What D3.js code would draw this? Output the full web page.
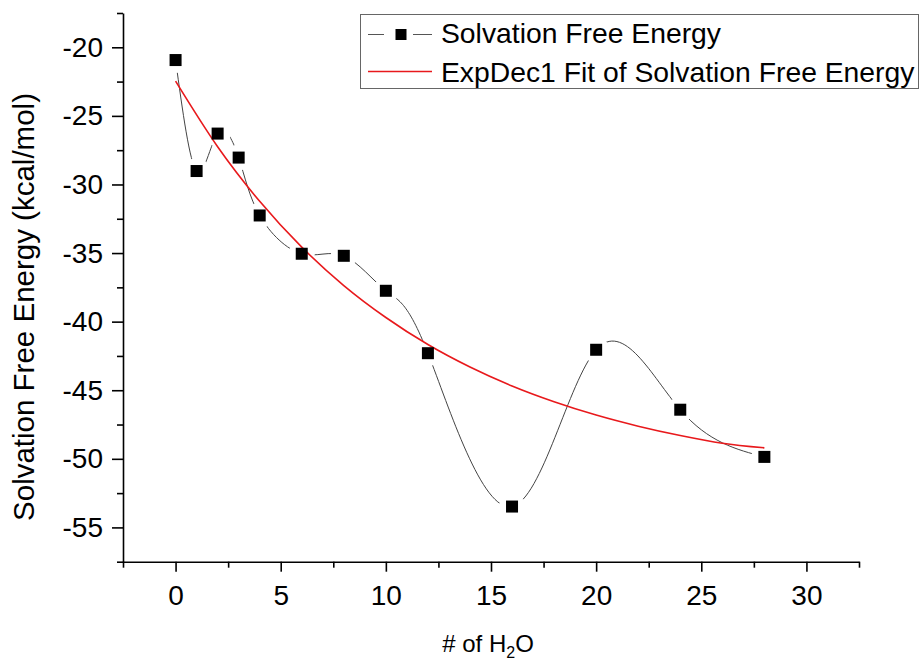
<!DOCTYPE html>
<html>
<head>
<meta charset="utf-8">
<script src="https://cdn.jsdelivr.net/npm/d3@7"></script>
<style>
	body { margin: 0; background: #fff; }
	svg { display: block; font-family: "Liberation Sans", Arial, sans-serif; }
	.axis path, .axis line { stroke: #000; stroke-width: 1.6; }
	.axis text { fill: #000; font-size: 28px; font-family: "Liberation Sans", Arial, sans-serif; }
</style>
</head>
<body>
<div id="chart"></div>
<script>
var nWater = [0, 1, 2, 3, 4, 6, 8, 10, 12, 16, 20, 24, 28];
var solvEnergy = [-20.93, -29.02, -26.29, -28.04, -32.26, -35.05, -35.2, -37.75, -42.3, -53.48, -42.05, -46.42, -49.86];

var fitX = [0, 2, 4, 6, 8, 10, 12, 14, 16, 18, 20, 22, 24, 26, 28];
var fitEnergy = [-22.47, -27.25, -31.23, -34.57, -37.37, -39.7, -41.67, -43.31, -44.69, -45.84, -46.81, -47.62, -48.3, -48.86, -49.2];

var xTicks = [0, 5, 10, 15, 20, 25, 30];
var yTicks = [-55, -50, -45, -40, -35, -30, -25, -20];

var legendLabels = ["Solvation Free Energy", "ExpDec1 Fit of Solvation Free Energy"];

(function() {
	'use strict';

	var width = 920,
		height = 660,
		margin = { top: 13, right: 61, bottom: 98.3, left: 123 },
		innerW = width - margin.left - margin.right,
		innerH = height - margin.top - margin.bottom,
		plain = function(d) { return String(d); };

	var svg = d3.select("#chart").append("svg")
		.attr("width", width)
		.attr("height", height);

	var x = d3.scaleLinear().domain([-2.5, 32.5]).range([margin.left, margin.left + innerW]),
		y = d3.scaleLinear().domain([-57.5, -17.5]).range([margin.top + innerH, margin.top]);

	var xMinor = d3.range(-2.5, 33, 5),
		yMinor = d3.range(-57.5, -17, 5);

	// minor ticks first, then major axes
	svg.append("g")
		.attr("class", "axis")
		.attr("transform", "translate(0," + y.range()[0] + ")")
		.call(d3.axisBottom(x).tickValues(xMinor).tickSize(6).tickFormat("").tickSizeOuter(0));

	svg.append("g")
		.attr("class", "axis")
		.attr("transform", "translate(" + x.range()[0] + ",0)")
		.call(d3.axisLeft(y).tickValues(yMinor).tickSize(6).tickFormat("").tickSizeOuter(0));

	svg.append("g")
		.attr("class", "axis")
		.attr("transform", "translate(0," + y.range()[0] + ")")
		.call(d3.axisBottom(x).tickValues(xTicks).tickFormat(plain).tickSize(10).tickPadding(13.5).tickSizeOuter(0))
		.call(function(g) { g.select(".domain").remove(); });

	svg.append("g")
		.attr("class", "axis")
		.attr("transform", "translate(" + x.range()[0] + ",0)")
		.call(d3.axisLeft(y).tickValues(yTicks).tickFormat(plain).tickSize(11).tickPadding(9).tickSizeOuter(0))
		.call(function(g) { g.select(".domain").remove(); });

	var data = nWater.map(function(n, i) { return { n: n, e: solvEnergy[i] }; }),
		fit = fitX.map(function(n, i) { return { n: n, e: fitEnergy[i] }; });

	svg.append("path")
		.datum(data)
		.attr("fill", "none")
		.attr("stroke", "#444")
		.attr("stroke-width", 1)
		.attr("d", d3.line()
			.curve(d3.curveNatural)
			.x(function(d) { return x(d.n); })
			.y(function(d) { return y(d.e); }));

	// gaps of the connecting line round each symbol
	svg.selectAll("circle.gap")
		.data(data)
		.enter().append("circle")
		.attr("class", "gap")
		.attr("r", 13)
		.attr("fill", "#fff")
		.attr("cx", function(d) { return x(d.n); })
		.attr("cy", function(d) { return y(d.e); });

	svg.append("path")
		.datum(fit)
		.attr("fill", "none")
		.attr("stroke", "#e8191c")
		.attr("stroke-width", 1.6)
		.attr("d", d3.line()
			.curve(d3.curveMonotoneX)
			.x(function(d) { return x(d.n); })
			.y(function(d) { return y(d.e); }));

	var sq = 12;
	svg.selectAll("rect.pt")
		.data(data)
		.enter().append("rect")
		.attr("class", "pt")
		.attr("width", sq)
		.attr("height", sq)
		.attr("x", function(d) { return x(d.n) - sq / 2; })
		.attr("y", function(d) { return y(d.e) - sq / 2; })
		.attr("fill", "#000");

	// axis titles
	svg.append("text")
		.attr("transform", "translate(34,307) rotate(-90)")
		.attr("text-anchor", "middle")
		.style("font-size", "29.5px")
		.text("Solvation Free Energy (kcal/mol)");

	var xt = svg.append("text")
		.attr("x", 488)
		.attr("y", 652)
		.attr("text-anchor", "middle")
		.style("font-size", "24px");
	xt.append("tspan").text("# of H");
	xt.append("tspan").attr("dy", 6).style("font-size", "16px").text("2");
	xt.append("tspan").attr("dy", -6).text("O");

	// legend
	var lg = svg.append("g");
	lg.append("rect")
		.attr("x", 360.5).attr("y", 14.5)
		.attr("width", 558).attr("height", 74)
		.attr("fill", "#fff")
		.attr("stroke", "#666")
		.attr("stroke-width", 1);

	lg.append("line").attr("x1", 368).attr("x2", 384).attr("y1", 34.5).attr("y2", 34.5)
		.attr("stroke", "#555").attr("stroke-width", 1);
	lg.append("line").attr("x1", 413).attr("x2", 432).attr("y1", 34.5).attr("y2", 34.5)
		.attr("stroke", "#555").attr("stroke-width", 1);
	lg.append("rect").attr("x", 395.5).attr("y", 29).attr("width", 11).attr("height", 11).attr("fill", "#000");
	lg.append("line").attr("x1", 368).attr("x2", 432).attr("y1", 71.5).attr("y2", 71.5)
		.attr("stroke", "#e8191c").attr("stroke-width", 1.6);

	lg.selectAll("text")
		.data(legendLabels)
		.enter().append("text")
		.attr("x", 441)
		.attr("y", function(d, i) { return 43 + i * 39; })
		.style("font-size", "28.3px")
		.text(function(d) { return d; });
})();
</script>
</body>
</html>
